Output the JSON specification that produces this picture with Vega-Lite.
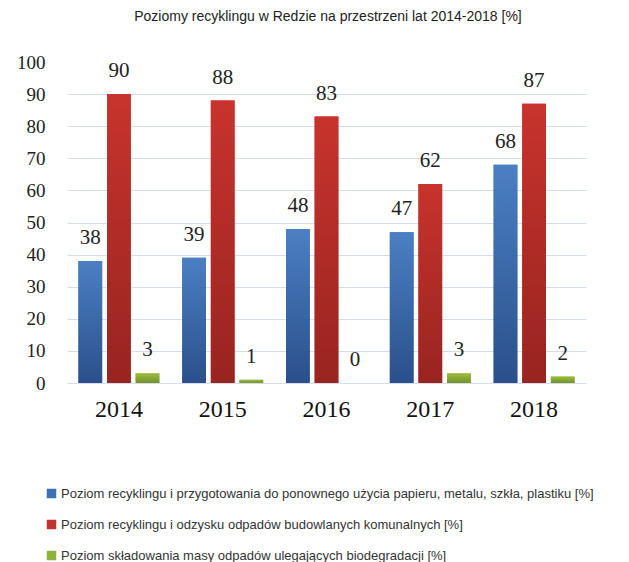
{
  "$schema": "https://vega.github.io/schema/vega-lite/v6.json",
  "width": 562,
  "height": 321,
  "autosize": {"type": "none"},
  "padding": {"left": 67, "top": 62, "right": 0, "bottom": 179},
  "background": "white",
  "title": {
    "text": "Poziomy recyklingu w Redzie na przestrzeni lat 2014-2018 [%]",
    "font": "Liberation Sans",
    "fontSize": 14,
    "fontWeight": "normal",
    "color": "#222222",
    "anchor": "middle",
    "frame": "group",
    "dx": -20,
    "offset": 29
  },
  "config": {"view": {"stroke": null}},
  "data": {
    "values": [
      {"year": "2014", "series": "Poziom recyklingu i przygotowania do ponownego użycia papieru, metalu, szkła, plastiku [%]", "value": 38},
      {"year": "2014", "series": "Poziom recyklingu i odzysku odpadów budowlanych komunalnych [%]", "value": 90},
      {"year": "2014", "series": "Poziom składowania masy odpadów ulegających biodegradacji [%]", "value": 3},
      {"year": "2015", "series": "Poziom recyklingu i przygotowania do ponownego użycia papieru, metalu, szkła, plastiku [%]", "value": 39},
      {"year": "2015", "series": "Poziom recyklingu i odzysku odpadów budowlanych komunalnych [%]", "value": 88},
      {"year": "2015", "series": "Poziom składowania masy odpadów ulegających biodegradacji [%]", "value": 1},
      {"year": "2016", "series": "Poziom recyklingu i przygotowania do ponownego użycia papieru, metalu, szkła, plastiku [%]", "value": 48},
      {"year": "2016", "series": "Poziom recyklingu i odzysku odpadów budowlanych komunalnych [%]", "value": 83},
      {"year": "2016", "series": "Poziom składowania masy odpadów ulegających biodegradacji [%]", "value": 0},
      {"year": "2017", "series": "Poziom recyklingu i przygotowania do ponownego użycia papieru, metalu, szkła, plastiku [%]", "value": 47},
      {"year": "2017", "series": "Poziom recyklingu i odzysku odpadów budowlanych komunalnych [%]", "value": 62},
      {"year": "2017", "series": "Poziom składowania masy odpadów ulegających biodegradacji [%]", "value": 3},
      {"year": "2018", "series": "Poziom recyklingu i przygotowania do ponownego użycia papieru, metalu, szkła, plastiku [%]", "value": 68},
      {"year": "2018", "series": "Poziom recyklingu i odzysku odpadów budowlanych komunalnych [%]", "value": 87},
      {"year": "2018", "series": "Poziom składowania masy odpadów ulegających biodegradacji [%]", "value": 2}
    ]
  },
  "encoding": {
    "x": {
      "field": "year",
      "type": "nominal",
      "scale": {"range": [0, 519], "paddingInner": 0.22, "paddingOuter": 0.11},
      "axis": {
        "title": null,
        "domain": false,
        "ticks": false,
        "labelAngle": 0,
        "labelFont": "Liberation Serif",
        "labelFontSize": 24,
        "labelColor": "#111111",
        "labelPadding": 14
      }
    },
    "xOffset": {
      "field": "series",
      "type": "nominal",
      "sort": [
        "Poziom recyklingu i przygotowania do ponownego użycia papieru, metalu, szkła, plastiku [%]",
        "Poziom recyklingu i odzysku odpadów budowlanych komunalnych [%]",
        "Poziom składowania masy odpadów ulegających biodegradacji [%]"
      ],
      "scale": {"paddingInner": 0.17, "paddingOuter": 0}
    },
    "y": {
      "field": "value",
      "type": "quantitative",
      "scale": {"domain": [0, 100], "nice": false},
      "axis": {
        "title": null,
        "values": [0, 10, 20, 30, 40, 50, 60, 70, 80, 90, 100],
        "domain": false,
        "ticks": false,
        "grid": true,
        "gridColor": {"condition": {"test": "datum.value == 100", "value": "transparent"}, "value": "#d3ddef"},
        "gridWidth": 1,
        "labelFont": "Liberation Serif",
        "labelFontSize": 19,
        "labelColor": "#222222",
        "labelPadding": 22
      }
    }
  },
  "layer": [
    {
      "mark": {"type": "bar"},
      "encoding": {
        "color": {
          "field": "series",
          "type": "nominal",
          "sort": [
            "Poziom recyklingu i przygotowania do ponownego użycia papieru, metalu, szkła, plastiku [%]",
            "Poziom recyklingu i odzysku odpadów budowlanych komunalnych [%]",
            "Poziom składowania masy odpadów ulegających biodegradacji [%]"
          ],
          "scale": {"range": ["#3d6fb5", "#be3430", "#8fb23a"]},
          "legend": {
            "orient": "none",
            "legendX": -22,
            "legendY": 425,
            "direction": "vertical",
            "title": null,
            "symbolType": "square",
            "symbolSize": 90,
            "symbolStrokeWidth": 0,
            "labelFont": "Liberation Sans",
            "labelFontSize": 13,
            "labelColor": "#333333",
            "labelLimit": 700,
            "labelOffset": 3,
            "rowPadding": 17
          }
        }
      }
    },
    {
      "transform": [{"filter": "indexof(datum.series, 'przygotowania') >= 0"}],
      "mark": {"type": "bar", "color": {"gradient": "linear", "x1": 0, "y1": 0, "x2": 0, "y2": 1, "stops": [{"offset": 0, "color": "#4a80c3"}, {"offset": 1, "color": "#2b4f8b"}]}}
    },
    {
      "transform": [{"filter": "indexof(datum.series, 'budowlanych') >= 0"}],
      "mark": {"type": "bar", "color": {"gradient": "linear", "x1": 0, "y1": 0, "x2": 0, "y2": 1, "stops": [{"offset": 0, "color": "#c8332d"}, {"offset": 1, "color": "#982420"}]}}
    },
    {
      "transform": [{"filter": "indexof(datum.series, 'składowania') >= 0"}],
      "mark": {"type": "bar", "color": {"gradient": "linear", "x1": 0, "y1": 0, "x2": 0, "y2": 1, "stops": [{"offset": 0, "color": "#9cbd3e"}, {"offset": 1, "color": "#72922a"}]}}
    },
    {
      "mark": {"type": "text", "baseline": "alphabetic", "dy": -17, "font": "Liberation Serif", "fontSize": 21, "color": "#222222"},
      "encoding": {"text": {"field": "value", "type": "quantitative"}}
    }
  ]
}
